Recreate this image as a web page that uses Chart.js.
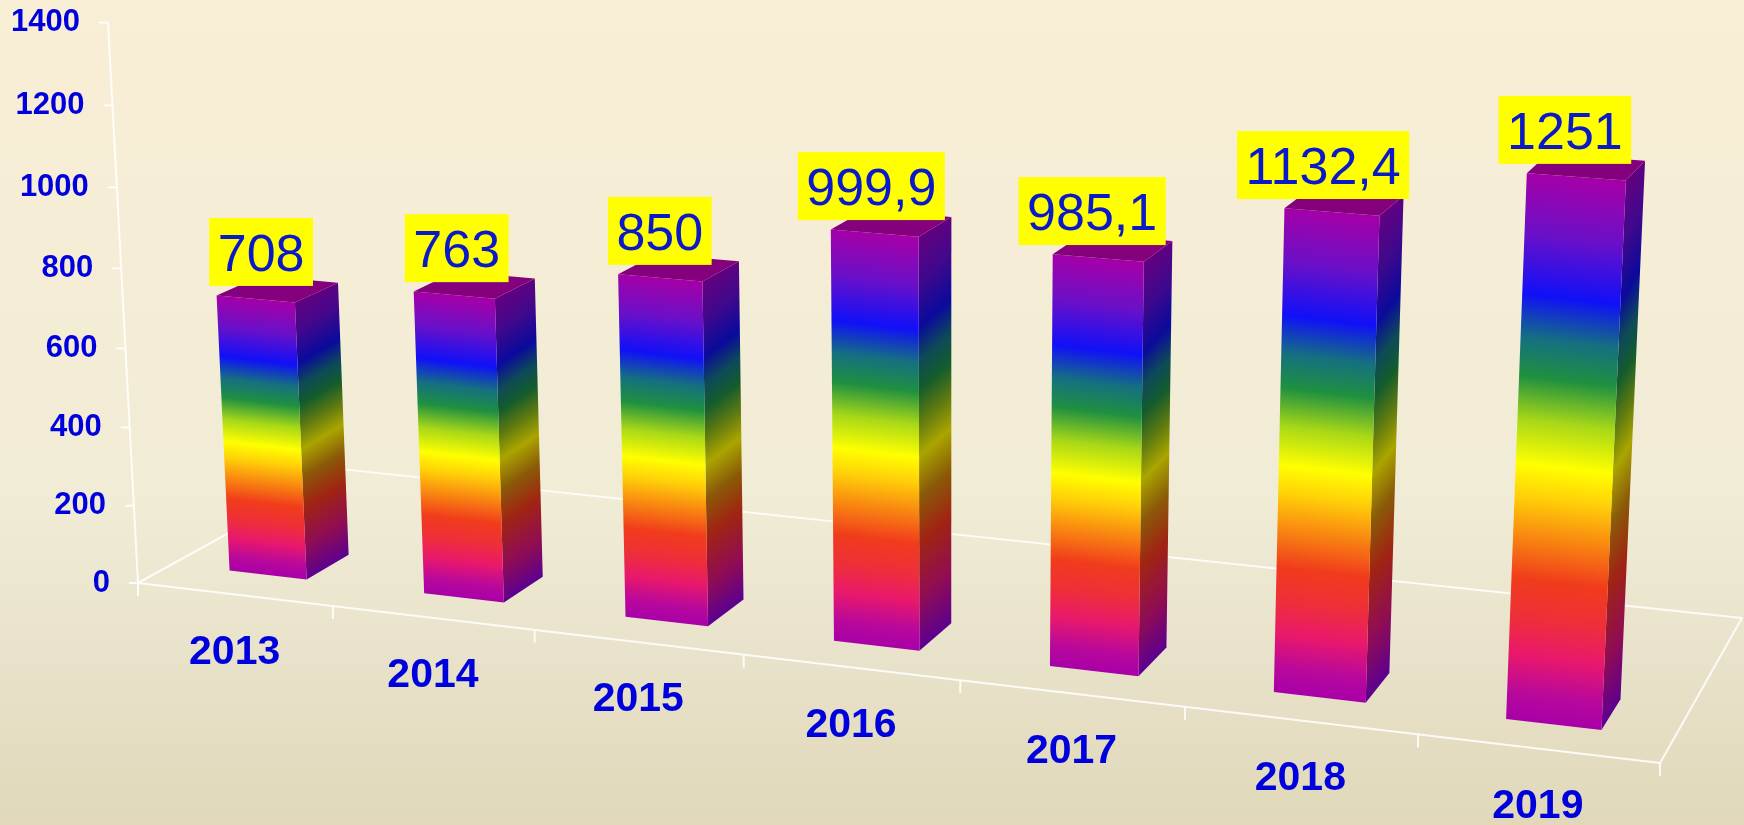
<!DOCTYPE html>
<html>
<head>
<meta charset="utf-8">
<style>html,body{margin:0;padding:0;background:#f4ecd6}canvas{display:block}</style>
<script src="https://cdn.jsdelivr.net/npm/chart.js@4/dist/chart.umd.js"></script>
</head>
<body>
<canvas id="c" width="1744" height="825"></canvas>
<script>
const categories = ['2013','2014','2015','2016','2017','2018','2019'];
const values = [708,763,850,999.9,985.1,1132.4,1251];
const valueLabels = ['708','763','850','999,9','985,1','1132,4','1251'];
const yTicks = [0,200,400,600,800,1000,1200,1400];

const FONT = '"Liberation Sans", Arial, sans-serif';
const FRONT_STOPS = [[0,'#a800a8'],[.05,'#b8089c'],[.12,'#e9186c'],[.19,'#ee2f38'],[.26,'#f03c1c'],[.34,'#f98a10'],[.41,'#ffd008'],[.47,'#ffff00'],[.55,'#a8d818'],[.63,'#1f9040'],[.7,'#157080'],[.78,'#1010f8'],[.89,'#6a10c8'],[1,'#a400a8']];
const SIDE_STOPS = [[0,'#5c0090'],[.12,'#8f0c55'],[.26,'#a02412'],[.37,'#8a5a08'],[.47,'#aaa500'],[.55,'#5f7a10'],[.63,'#145c2c'],[.7,'#0e4a58'],[.78,'#0a0a9c'],[.89,'#40088c'],[1,'#640080']];
const TOP_COLOR = '#84007c';
const DEPTH_FRONT = .155, DEPTH_BACK = .36;

// Camera: maps chart-plane position (u along x, w into the floor, v up the y axis) to the page.
function project(chart, xPx, yPx, w) {
  const a = chart.chartArea;
  const u = (xPx - a.left) / (a.right - a.left);
  const v = (a.bottom - yPx) / (a.bottom - a.top);
  const d = 1 - .1187*u + .0957*w - .0401*v;
  return {
    x: (1325*u + 238.9*w + 138 - 34.3*v) / d - 7.5*u*v,
    y: (89.4*u - 68.7*w + 583 - 561.4*v) / d
  };
}
function poly(ctx, pts) {
  ctx.beginPath();
  pts.forEach((p,i)=> i ? ctx.lineTo(p.x,p.y) : ctx.moveTo(p.x,p.y));
  ctx.closePath();
}
function face(ctx, bl, br, tr, tl, stops) {
  // bands run parallel to the bottom edge of the face
  const dx = br.x-bl.x, dy = br.y-bl.y, len = Math.hypot(dx,dy);
  const nx = dy/len, ny = -dx/len;
  const h = (tl.x-bl.x)*nx + (tl.y-bl.y)*ny;
  const g = ctx.createLinearGradient(bl.x,bl.y,bl.x+nx*h,bl.y+ny*h);
  stops.forEach(s=>g.addColorStop(s[0],s[1]));
  ctx.fillStyle = g;
  poly(ctx,[bl,br,tr,tl]);
  ctx.fill();
}
function line(ctx,p,q){ctx.beginPath();ctx.moveTo(p.x,p.y);ctx.lineTo(q.x,q.y);ctx.stroke();}

const scene = {
  id:'scene',
  beforeDraw(chart){
    const ctx = chart.ctx, W = chart.width, H = chart.height;
    const bg = ctx.createLinearGradient(0,0,0,H);
    bg.addColorStop(0,'#f9eed6');bg.addColorStop(.6,'#f1ecd6');bg.addColorStop(.8,'#e8e2ca');bg.addColorStop(1,'#e0d8b9');
    ctx.save();ctx.fillStyle = bg;ctx.fillRect(0,0,W,H);ctx.restore();

    const xs = chart.scales.x, ys = chart.scales.y;
    // tick labels follow the slanted axes
    ys.getLabelItems().forEach((it,i)=>{
      const p = project(chart,chart.chartArea.left,ys.getPixelForValue(ys.ticks[i].value),0);
      it.options.translation = [p.x-28,p.y];
      it.options.textAlign = 'right';
      it.options.textBaseline = 'middle';
      it.textOffset = 0;
    });
    xs.getLabelItems().forEach((it,i)=>{
      const p = project(chart,xs.getPixelForValue(i),chart.chartArea.bottom,0);
      it.options.translation = [p.x,p.y+58];
      it.options.textAlign = 'center';
      it.options.textBaseline = 'middle';
      it.textOffset = 0;
    });

    // floor outline, value axis and tick marks
    const a = chart.chartArea, P = (x,y,w)=>project(chart,x,y,w);
    ctx.save();
    ctx.strokeStyle = 'rgba(255,255,255,.85)';
    ctx.lineWidth = 2;
    const fl=P(a.left,a.bottom,0), fr=P(a.right,a.bottom,0), br=P(a.right,a.bottom,1), bl=P(a.left,a.bottom,1);
    line(ctx,fl,fr);line(ctx,fr,br);line(ctx,br,bl);line(ctx,bl,fl);
    line(ctx,fl,P(a.left,a.top,0));
    ys.ticks.forEach(t=>{
      const p = P(a.left,ys.getPixelForValue(t.value),0);
      line(ctx,p,{x:p.x-9,y:p.y});
    });
    for(let i=0;i<=categories.length;i++){
      const p = P(xs.getPixelForValue(i-.5),a.bottom,0);
      line(ctx,p,{x:p.x,y:p.y+13});
    }
    ctx.restore();
  },
  afterDatasetsDraw(chart){
    const ctx = chart.ctx, bars = chart.getDatasetMeta(0).data, a = chart.chartArea;
    ctx.save();
    bars.forEach(b=>{
      const L=b.x-b.width/2, R=b.x+b.width/2, B=a.bottom, T=b.y;
      const P=(x,y,w)=>project(chart,x,y,w);
      const fbl=P(L,B,DEPTH_FRONT), fbr=P(R,B,DEPTH_FRONT), ftl=P(L,T,DEPTH_FRONT), ftr=P(R,T,DEPTH_FRONT);
      const bbr=P(R,B,DEPTH_BACK), btr=P(R,T,DEPTH_BACK), btl=P(L,T,DEPTH_BACK);
      face(ctx,fbr,bbr,btr,ftr,SIDE_STOPS);
      face(ctx,fbl,fbr,ftr,ftl,FRONT_STOPS);
      ctx.fillStyle = TOP_COLOR;
      poly(ctx,[ftl,ftr,btr,btl]);ctx.fill();
    });
    // value labels
    ctx.font = '52px '+FONT;
    ctx.textAlign='center';ctx.textBaseline='middle';
    bars.forEach((b,i)=>{
      const p = project(chart,b.x,b.y,DEPTH_FRONT-.04);
      const u = (b.x-a.left)/(a.right-a.left);
      const tw = ctx.measureText(valueLabels[i]).width+17, bh=68;
      const cx=p.x+16-25*u, bot=p.y-17;
      ctx.fillStyle='#ffff00';
      ctx.fillRect(cx-tw/2,bot-bh,tw,bh);
      ctx.fillStyle='#0a1ac8';
      ctx.fillText(valueLabels[i],cx,bot-bh/2+5);
    });
    ctx.restore();
  }
};

new Chart(document.getElementById('c'),{
  type:'bar',
  data:{labels:categories,datasets:[{data:values,backgroundColor:'transparent',borderWidth:0,categoryPercentage:.4,barPercentage:1}]},
  plugins:[scene],
  options:{
    responsive:false,animation:false,
    layout:{padding:{top:22,right:84,left:0,bottom:0}},
    plugins:{legend:{display:false},tooltip:{enabled:false}},
    scales:{
      x:{
        grid:{display:false},border:{display:false},
        ticks:{color:'#0000dd',font:{family:FONT,size:41,weight:'bold'},maxRotation:0,autoSkip:false},
        afterFit(s){s.height=825-583;}
      },
      y:{
        min:0,max:1400,
        afterBuildTicks(s){s.ticks=yTicks.map(v=>({value:v}));},
        grid:{display:false},border:{display:false},
        ticks:{color:'#0000dd',font:{family:FONT,size:31,weight:'bold'},callback:v=>String(v)},
        afterFit(s){s.width=138;}
      }
    }
  }
});
</script>
</body>
</html>
